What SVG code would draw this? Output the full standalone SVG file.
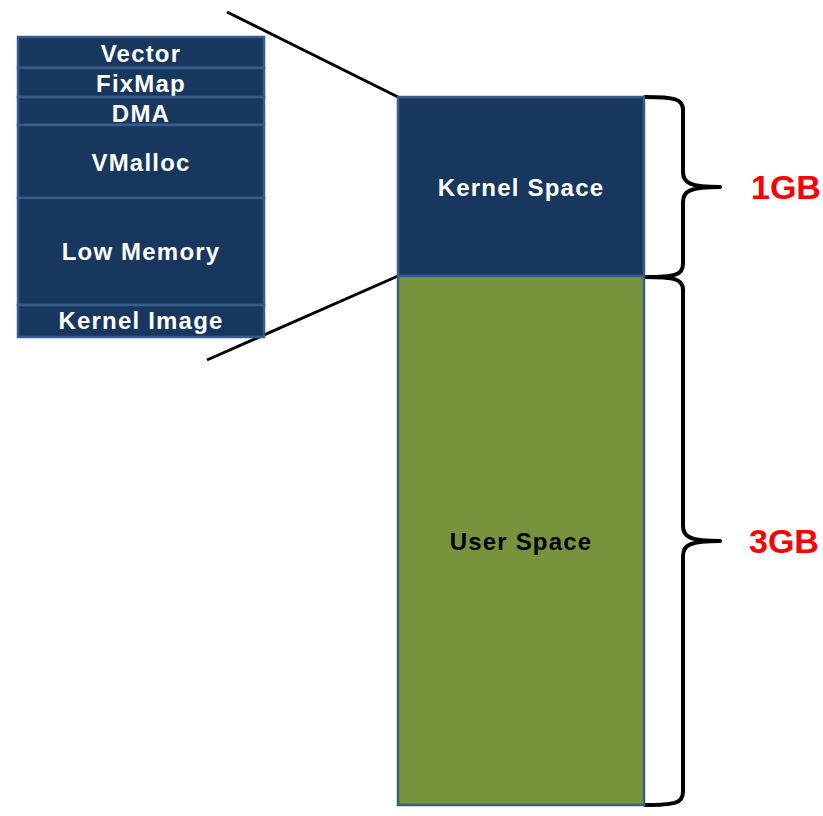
<svg xmlns="http://www.w3.org/2000/svg" width="823" height="816" viewBox="0 0 823 816">
<style>
.cell{fill:#17375E;stroke:#385D8A;stroke-width:2.5}
.user{fill:#77933C;stroke:#385D8A;stroke-width:2.5}
.lbl{font-family:"Liberation Sans",Arial,sans-serif;font-weight:bold;font-size:24px;letter-spacing:1.2px;fill:#fff;text-anchor:middle}
.dark{fill:#000}
.size{font-family:"Liberation Sans",Arial,sans-serif;font-weight:bold;font-size:34px;fill:#FF0000}
.brace{fill:none;stroke:#000;stroke-width:4;stroke-linecap:round;stroke-linejoin:round}
.zoom{stroke:#000;stroke-width:3}
</style>
<rect width="823" height="816" fill="#fff"/>
<g id="connectors">
<line class="zoom" x1="227" y1="12" x2="398" y2="97"/>
<line class="zoom" x1="207" y1="360" x2="398" y2="276"/>
<path id="brace-1gb" class="brace" d="M645,97 C675,97 683,99 683,110 L683,172 C683,183 690,187 720,187 C690,187 683,191 683,202 L683,264 C683,275 675,277 645,277"/>
<path id="brace-3gb" class="brace" d="M645,277 C675,277 683,279 683,290 L683,526 C683,537 690,541 720,541 C690,541 683,545 683,556 L683,792 C683,803 675,805 645,805"/>
</g>
<g id="vector"><rect class="cell" x="18" y="37" width="246" height="31"/><text class="lbl" x="141" y="62">Vector</text></g>
<g id="fixmap"><rect class="cell" x="18" y="68" width="246" height="29"/><text class="lbl" x="141" y="92">FixMap</text></g>
<g id="dma"><rect class="cell" x="18" y="97" width="246" height="28"/><text class="lbl" x="141" y="122">DMA</text></g>
<g id="vmalloc"><rect class="cell" x="18" y="125" width="246" height="73"/><text class="lbl" x="141" y="171">VMalloc</text></g>
<g id="low-memory"><rect class="cell" x="18" y="198" width="246" height="107"/><text class="lbl" x="141" y="260">Low Memory</text></g>
<g id="kernel-image"><rect class="cell" x="18" y="305" width="246" height="32"/><text class="lbl" x="141" y="329">Kernel Image</text></g>
<g id="kernel-space"><rect class="cell" x="398" y="97" width="246" height="179"/><text class="lbl" x="521" y="196">Kernel Space</text></g>
<g id="user-space"><rect class="user" x="398" y="276" width="246" height="529"/><text class="lbl dark" x="521" y="550">User Space</text></g>
<g id="label-1gb"><text class="size" x="751" y="199">1GB</text></g>
<g id="label-3gb"><text class="size" x="749" y="553">3GB</text></g>
</svg>
